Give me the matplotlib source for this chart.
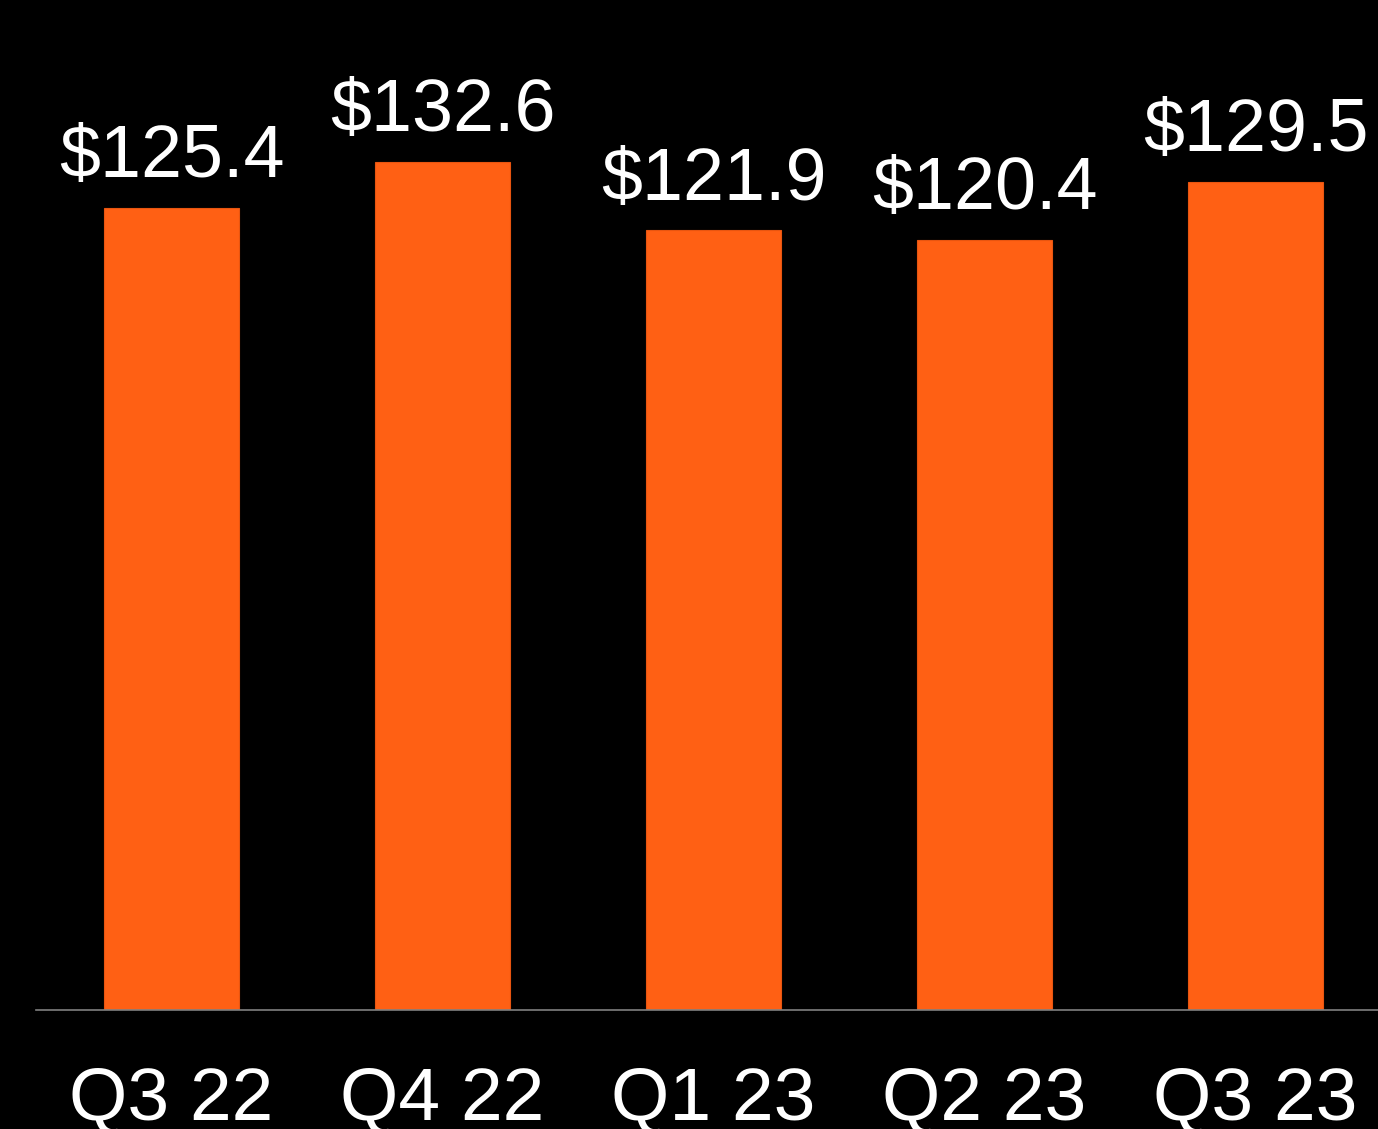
import matplotlib
matplotlib.use("Agg")
import matplotlib.pyplot as plt

categories = ["Q3 22", "Q4 22", "Q1 23", "Q2 23", "Q3 23"]
values = [125.4, 132.6, 121.9, 120.4, 129.5]
labels = ["$125.4", "$132.6", "$121.9", "$120.4", "$129.5"]

plt.rcParams['font.family'] = ['Liberation Sans', 'DejaVu Sans']

fig = plt.figure(figsize=(13.78, 11.29), dpi=100, facecolor='black')
ax = fig.add_axes([36/1378, 1 - 1010/1129, 1 - 36/1378, 1010/1129])
ax.set_facecolor('black')

x = list(range(len(categories)))
ax.bar(x, values, width=0.5, color='#FF6014', edgecolor='#E85510', linewidth=0.8)

for xi, v, lab in zip(x, values, labels):
    ax.annotate(lab, (xi, v), xytext=(0, 22), textcoords='offset points',
                ha='center', va='baseline', color='white', fontsize=53)

ax.set_xlim(-0.5, 4.452)
ax.set_ylim(0, 157.9)
ax.set_xticks(x)
ax.set_xticklabels(categories, color='white', fontsize=54)
ax.tick_params(axis='x', length=0, pad=40)
ax.set_yticks([])
for s in ['top', 'right', 'left']:
    ax.spines[s].set_visible(False)
ax.spines['bottom'].set_color('#808080')
ax.spines['bottom'].set_linewidth(1.2)

fig.savefig('out.png', dpi=100, facecolor='black')
